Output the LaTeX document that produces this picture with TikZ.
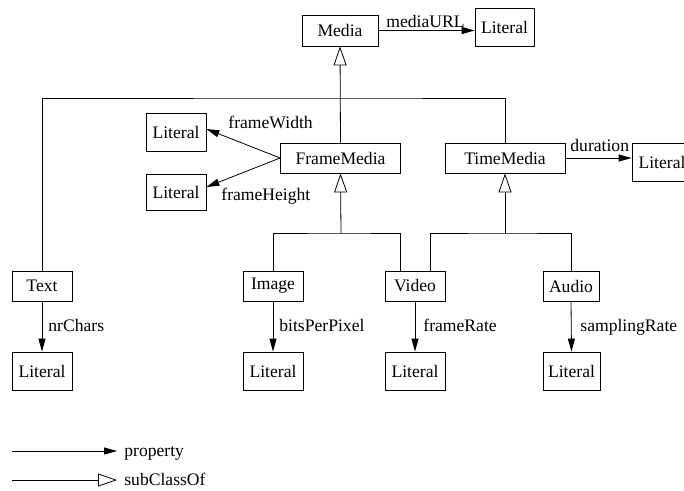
\documentclass[tikz,border=0pt]{standalone}
\usepackage{fontspec}
\setmainfont{Liberation Serif}
\usetikzlibrary{arrows.meta}
\begin{document}
\begin{tikzpicture}[x=1pt,y=-1pt,
  line width=0.8pt,
  font=\fontsize{17.6}{20}\selectfont,
  cls/.style={draw,inner sep=0pt,minimum height=30pt},
  lit/.style={draw,inner sep=0pt,minimum height=38pt,minimum width=60pt},
  prop/.style={-{Triangle[length=13pt,width=7pt]}},
  sub/.style={-{Triangle[open,length=19pt,width=13pt]}},
  lbl/.style={anchor=base west,inner sep=0pt},
]
\useasboundingbox (0,0) rectangle (684,490);
\clip (0,0) rectangle (684,490);

% classes
\node[cls,minimum width=76pt,minimum height=31pt] (media) at (340,30.5) {Media};
\node[lit,minimum width=59pt] (litURL) at (504.5,27) {Literal};
\node[cls,minimum width=120pt] (fm) at (340.5,158) {FrameMedia};
\node[lit] (litW) at (176,132) {Literal};
\node[lit,minimum height=36pt] (litH) at (176,192) {Literal};
\node[cls,minimum width=120pt] (tm) at (505,158) {TimeMedia};
\node[lit] (litD) at (662,162) {Literal};
\node[cls,minimum width=60pt] (text) at (42,286) {Text};
\node[cls,minimum width=60pt] (img) at (273,286) {Image};
\node[cls,minimum width=60pt] (vid) at (415,286) {Video};
\node[cls,minimum width=56pt] (aud) at (571,286) {Audio};
\node[lit] (litT) at (42,371) {Literal};
\node[lit] (litI) at (273,371) {Literal};
\node[lit] (litV) at (415,371) {Literal};
\node[lit,minimum width=57pt] (litA) at (571.5,371) {Literal};

% subclass hierarchy
\coordinate (jm) at (341,98);
\coordinate (jf) at (341,233);
\coordinate (jt) at (505,233);
\draw[sub] (fm.north) -- (media.south);
\draw (text.north) |- (jm) -| (tm.north);
\draw[sub] (jf) -- (fm.south);
\draw (img.north) |- (jf) -| ([xshift=-15pt]vid.north);
\draw[sub] (jt) -- (tm.south);
\draw ([xshift=15pt]vid.north) |- (jt) -| (aud.north);

% properties
\draw[prop] (media.east) -- (media.east -| litURL.west);
\node[lbl] (lURL) at (386,27) {mediaURL};
\draw[prop] (fm.west) -- ([yshift=3pt]litW.east);
\node[lbl] (lW) at (228,128) {frameWidth};
\draw[prop] (fm.west) -- ([yshift=5pt]litH.east);
\node[lbl] (lH) at (221,200) {frameHeight};
\draw[prop] (tm.east) -- (tm.east -| litD.west);
\node[lbl] (lD) at (570,151) {duration};
\draw[prop] (text.south) -- (litT.north);
\node[lbl] (lT) at (48,331) {nrChars};
\draw[prop] (img.south) -- (litI.north);
\node[lbl] (lI) at (279,331) {bitsPerPixel};
\draw[prop] (vid.south) -- (litV.north);
\node[lbl] (lV) at (423,331) {frameRate};
\draw[prop] (aud.south) -- (litA.north);
\node[lbl] (lA) at (580,331) {samplingRate};

% legend
\coordinate (k1a) at (12,451);
\coordinate (k1b) at (117,451);
\coordinate (k2a) at (12,480);
\coordinate (k2b) at (117,480);
\draw[prop] (k1a) -- (k1b);
\node[lbl] (kp) at (124,456) {property};
\draw[sub] (k2a) -- (k2b);
\node[lbl] (ks) at (124,485) {subClassOf};
\end{tikzpicture}
\end{document}
